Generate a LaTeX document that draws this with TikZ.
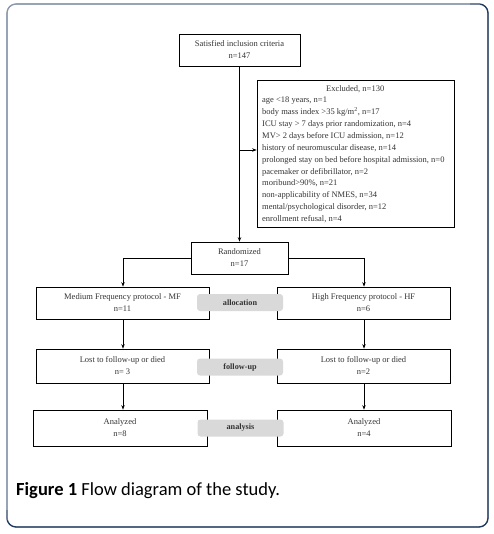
\documentclass[tikz,border=0pt]{standalone}
\usepackage{fontspec}
\setmainfont{Liberation Serif}
\newfontfamily\capfont{Carlito}
\usetikzlibrary{arrows.meta}
\definecolor{framegray}{HTML}{8A97AB}
\definecolor{framenavy}{HTML}{22395E}
\definecolor{labgray}{HTML}{D9D9D9}
\definecolor{txt}{HTML}{333333}
\tikzset{
  box/.style={draw=black, line width=0.7pt, rectangle, inner sep=0pt, align=center,
    font=\fontsize{8.5}{12}\selectfont, text=txt},
  lab/.style={fill=labgray, rounded corners=3pt, inner sep=0pt, font=\bfseries\fontsize{8.2}{9}\selectfont, text=txt},
  conn/.style={draw=black, line width=0.7pt, -{Stealth[length=4.5pt,width=3.5pt]}}
}
\begin{document}
\begin{tikzpicture}[x=1pt,y=-1pt]
\useasboundingbox (0,0) rectangle (493,534);
% outer frame
\draw[framegray, line width=1.1pt, rounded corners=9pt] (7,4) rectangle (488,527);
\draw[framenavy, line width=1.3pt, rounded corners=9pt] (470,4) -- (488,4) -- (488,527) -- (470,527) -- (7,527) -- (7,510);
\draw[framegray, line width=1.1pt, rounded corners=9pt] (7,520) -- (7,4) -- (480,4);

\node[box, minimum width=121pt, minimum height=32pt] (top) at (239.5,50) {Satisfied inclusion criteria\\n=147};
\node[box, minimum width=197pt, minimum height=147pt] (exc) at (355.5,153.5) {};
\node[font=\fontsize{8.5}{11.85}\selectfont, text=txt, align=left, anchor=west, inner sep=0pt] (exctext) at (262,154) {%
\makebox[186pt][c]{Excluded, n=130}\\
age <18 years, n=1\\
body mass index >35 kg/m\textsuperscript{2}, n=17\\
ICU stay > 7 days prior randomization, n=4\\
MV> 2 days before ICU admission, n=12\\
history of neuromuscular disease, n=14\\
prolonged stay on bed before hospital admission, n=0\\
pacemaker or defibrillator, n=2\\
moribund>90\%, n=21\\
non-applicability of NMES, n=34\\
mental/psychological disorder, n=12\\
enrollment refusal, n=4};
\node[box, minimum width=97pt, minimum height=32pt] (rand) at (239.5,258) {Randomized\\n=17};
\node[box, minimum width=173pt, minimum height=32pt] (mf) at (122.5,303) {Medium Frequency protocol - MF\\n=11};
\node[box, minimum width=173pt, minimum height=32pt] (hf) at (363.5,303) {High Frequency protocol - HF\\n=6};
\node[box, minimum width=173pt, minimum height=34pt] (lostL) at (122.5,366) {Lost to follow-up or died\\n= 3};
\node[box, minimum width=173pt, minimum height=34pt] (lostR) at (363.5,366) {Lost to follow-up or died\\n=2};
\node[box, minimum width=174pt, minimum height=36pt] (anL) at (120,428) {Analyzed\\n=8};
\node[box, minimum width=174pt, minimum height=36pt] (anR) at (364,428) {Analyzed\\n=4};

\node[lab, minimum width=86pt, minimum height=17pt] (alloc) at (240,302.5) {allocation};
\node[lab, minimum width=86pt, minimum height=17pt] (fu) at (240,367) {follow-up};
\node[lab, minimum width=86pt, minimum height=17pt] (ana) at (240.5,428) {analysis};

\coordinate (branch) at (240,150);
\coordinate (lx) at (123,0);
\coordinate (rx) at (364,0);

\draw[conn] (top.south) -- (rand.north);
\draw[conn] (branch) -- (branch -| exc.west);
\draw[conn] (rand.west) -| (lx |- mf.north);
\draw[conn] (rand.east) -| (rx |- hf.north);
\draw[conn] (lx |- mf.south) -- (lx |- lostL.north);
\draw[conn] (rx |- hf.south) -- (rx |- lostR.north);
\draw[conn] (lx |- lostL.south) -- (lx |- anL.north);
\draw[conn] (rx |- lostR.south) -- (rx |- anR.north);

\node[anchor=base west, inner sep=0pt, font=\capfont\fontsize{18.5}{22}\selectfont] (cap) at (16,495) {\textbf{Figure 1} Flow diagram of the study.};
\end{tikzpicture}
\end{document}
